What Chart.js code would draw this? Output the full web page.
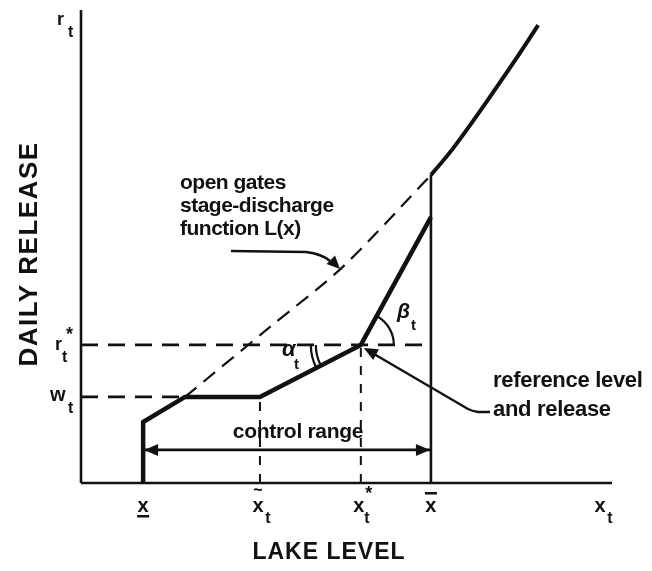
<!DOCTYPE html>
<html>
<head>
<meta charset="utf-8">
<script src="https://cdn.jsdelivr.net/npm/chart.js@4/dist/chart.umd.min.js"></script>
<style>
  html, body { margin: 0; padding: 0; background: #ffffff; }
  canvas { display: block; }
</style>
</head>
<body>
<canvas id="c" width="652" height="571"></canvas>
<script>
// ---- Data (abstract units: lake level x, daily release r) ----
const xLow = 1.17;      // x (minimum level)
const xTilde = 3.37;    // x~_t
const xStar = 5.27;     // x*_t
const xBar = 6.59;      // x-bar (maximum level)
const wT = 1.82;        // w_t
const rStar = 2.92;     // r*_t
const rStartLow = 1.29; // release at x (lower end)
const xKnee = 1.96;     // where release reaches w_t
const rAtXBarPolicy = 5.62; // policy line value at x-bar
const rAtXBarOpen = 6.51;   // open gates L(x-bar)
const controlRangeY = 0.70;

const policyX = [xLow, xLow, xKnee, xTilde, xStar, xBar];
const policyR = [0, rStartLow, wT, wT, rStar, rAtXBarPolicy];

const openDashedX = [xKnee, 3.56, 4.93, xBar];
const openDashedR = [wT, 3.30, 4.57, rAtXBarOpen];

const openSolidX = [xBar, 7.01, 7.65, 8.14, 8.61];
const openSolidR = [rAtXBarOpen, 7.08, 8.08, 8.88, 9.68];

const axisMax = 10;

function pts(xs, ys) { return xs.map((x, i) => ({ x: x, y: ys[i] })); }

const black = '#111111';
const FONT = '"Liberation Sans", Arial, sans-serif';

function lineDs(data, width, dash) {
  return {
    data: data, showLine: true, borderColor: black, backgroundColor: black,
    borderWidth: width, pointRadius: 0, borderDash: dash || [], tension: 0,
    clip: false, borderCapStyle: 'butt', borderJoinStyle: 'round'
  };
}

const datasets = [
  lineDs(pts([0, 0], [0, axisMax]), 2.6),
  lineDs(pts([0, axisMax], [0, 0]), 2.6),
  lineDs(pts(policyX, policyR), 4.5),
  lineDs(pts([xBar, xBar], [0, rAtXBarOpen]), 2.6),
  Object.assign(lineDs(pts(openSolidX, openSolidR), 4), { tension: 0.4 }),
  Object.assign(lineDs(pts(openDashedX, openDashedR), 2.2, [15, 9]), { tension: 0.3 }),
  lineDs(pts([0, xBar], [rStar, rStar]), 2.6, [17, 10]),
  lineDs(pts([0, xKnee], [wT, wT]), 2.6, [17, 10]),
  lineDs(pts([xTilde, xTilde], [0, wT]), 2, [9, 9]),
  lineDs(pts([xStar, xStar], [0, rStar]), 2, [9, 9]),
  lineDs(pts([xLow, xBar], [controlRangeY, controlRangeY]), 2.6)
];

function txt(ctx, s, x, y, size, opts) {
  opts = opts || {};
  ctx.save();
  ctx.font = (opts.style ? opts.style + ' ' : '') + (opts.weight || 'bold') + ' ' + size + 'px ' + FONT;
  ctx.fillStyle = black;
  ctx.textAlign = opts.align || 'left';
  ctx.textBaseline = opts.baseline || 'middle';
  if (opts.spacing !== undefined) ctx.letterSpacing = opts.spacing + 'px';
  ctx.fillText(s, x, y);
  ctx.restore();
}

function arrowHead(ctx, tipX, tipY, angle, len, half) {
  ctx.save();
  ctx.translate(tipX, tipY);
  ctx.rotate(angle);
  ctx.beginPath();
  ctx.moveTo(0, 0);
  ctx.lineTo(-len, -half);
  ctx.lineTo(-len, half);
  ctx.closePath();
  ctx.fillStyle = black;
  ctx.fill();
  ctx.restore();
}

const annot = {
  id: 'annot',
  afterDatasetsDraw(chart) {
    const ctx = chart.ctx;
    const sx = chart.scales.x, sy = chart.scales.y;
    const X = v => sx.getPixelForValue(v);
    const Y = v => sy.getPixelForValue(v);

    // control range arrowheads
    arrowHead(ctx, X(xLow) + 1, Y(controlRangeY), Math.PI, 14, 6);
    arrowHead(ctx, X(xBar) - 1, Y(controlRangeY), 0, 14, 6);
    txt(ctx, 'control range', 298, Y(controlRangeY) - 18, 21, { align: 'center', spacing: -0.3 });

    // alpha marks
    const cx = X(xStar), cy = Y(rStar);
    ctx.save();
    ctx.strokeStyle = black; ctx.lineWidth = 2.2;
    const aAng = Math.atan2(Y(wT) - Y(rStar), X(xStar) - X(xTilde));
    [45, 50].forEach(r => {
      ctx.beginPath();
      ctx.arc(cx, cy, r, Math.PI - aAng, Math.PI);
      ctx.stroke();
    });
    // beta arc
    const bAng = Math.atan2(Y(rAtXBarPolicy) - Y(rStar), X(xBar) - X(xStar));
    ctx.beginPath();
    ctx.arc(cx, cy, 33, bAng, 0);
    ctx.stroke();
    ctx.restore();
    txt(ctx, 'α', 282, 350, 22, { style: 'italic' });
    txt(ctx, 't', 294, 365, 15);
    txt(ctx, 'β', 397, 312, 21, { style: 'italic' });
    txt(ctx, 't', 411, 326, 15);

    // open gates annotation
    txt(ctx, 'open gates', 180, 183, 21, { spacing: -0.5 });
    txt(ctx, 'stage-discharge', 180, 206, 21, { spacing: -0.5 });
    txt(ctx, 'function L(x)', 180, 229, 21, { spacing: -0.5, weight: '600' });
    ctx.save();
    ctx.strokeStyle = black; ctx.lineWidth = 2.4;
    ctx.beginPath();
    ctx.moveTo(231, 251);
    ctx.lineTo(306, 252);
    ctx.quadraticCurveTo(322, 254, 330, 261);
    ctx.stroke();
    ctx.restore();
    arrowHead(ctx, 340, 269, Math.atan2(8, 8), 13, 6);

    // reference level annotation
    txt(ctx, 'reference level', 493, 381, 22, { spacing: -0.3 });
    txt(ctx, 'and release', 493, 410, 22, { spacing: -0.3 });
    ctx.save();
    ctx.strokeStyle = black; ctx.lineWidth = 2.4;
    ctx.beginPath();
    ctx.moveTo(490, 412);
    ctx.lineTo(478, 412);
    ctx.quadraticCurveTo(472, 411, 468, 409);
    ctx.lineTo(374, 354);
    ctx.stroke();
    ctx.restore();
    arrowHead(ctx, cx + 3, cy + 3, Math.atan2(-55, -100), 14, 6);

    // y-axis labels
    txt(ctx, 'r', 57, 20, 18);
    txt(ctx, 't', 68, 33, 16);
    txt(ctx, 'r', 55, Y(rStar) + 0, 18);
    txt(ctx, '*', 66, Y(rStar) - 10, 18);
    txt(ctx, 't', 62, Y(rStar) + 13, 16);
    txt(ctx, 'w', 50, Y(wT) - 1, 20);
    txt(ctx, 't', 68, Y(wT) + 12, 16);

    // x tick labels
    const ty = 506;
    txt(ctx, 'x', X(xLow), ty, 20, { align: 'center' });
    ctx.save(); ctx.fillStyle = black; ctx.fillRect(X(xLow) - 6, ty + 9, 12, 2.5); ctx.restore();
    txt(ctx, 'x', X(xTilde) - 2, ty, 20, { align: 'center' });
    txt(ctx, '~', X(xTilde) - 2, ty - 15, 16, { align: 'center' });
    txt(ctx, 't', X(xTilde) + 8, ty + 13, 16, { align: 'center' });
    txt(ctx, 'x', X(xStar) - 2, ty, 20, { align: 'center' });
    txt(ctx, '*', X(xStar) + 8, ty - 12, 18, { align: 'center' });
    txt(ctx, 't', X(xStar) + 6, ty + 13, 16, { align: 'center' });
    txt(ctx, 'x', X(xBar), ty, 20, { align: 'center' });
    ctx.save(); ctx.fillStyle = black; ctx.fillRect(X(xBar) - 6, ty - 14, 12, 2.5); ctx.restore();
    txt(ctx, 'x', 600, ty, 20, { align: 'center' });
    txt(ctx, 't', 610, ty + 13, 16, { align: 'center' });

    // axis titles
    txt(ctx, 'LAKE LEVEL', 329, 553, 23, { align: 'center', spacing: 1 });
    ctx.save();
    ctx.translate(30, 254);
    ctx.rotate(-Math.PI / 2);
    txt(ctx, 'DAILY RELEASE', 0, 0, 26, { align: 'center', spacing: 1.5 });
    ctx.restore();
  }
};

new Chart(document.getElementById('c'), {
  type: 'scatter',
  data: { datasets: datasets },
  options: {
    responsive: false,
    devicePixelRatio: 1,
    animation: false,
    layout: { padding: { left: 81, right: 40, top: 10, bottom: 88 } },
    plugins: { legend: { display: false }, tooltip: { enabled: false } },
    scales: {
      x: { type: 'linear', min: 0, max: axisMax, display: false },
      y: { type: 'linear', min: 0, max: axisMax, display: false }
    }
  },
  plugins: [annot]
});
</script>
</body>
</html>
